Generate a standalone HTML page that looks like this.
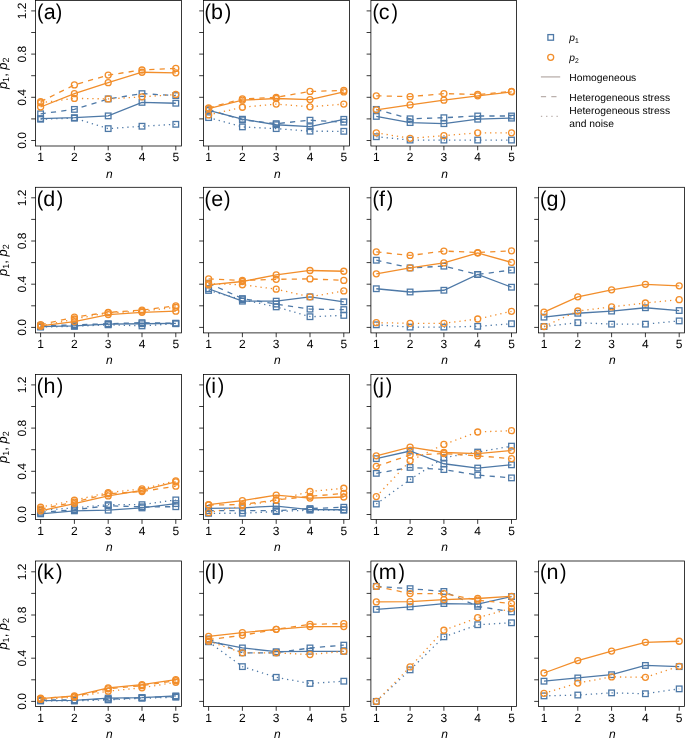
<!DOCTYPE html>
<html><head><meta charset="utf-8"><style>
html,body{margin:0;padding:0;background:#fff;}
svg{display:block;will-change:transform;}
text{font-family:"Liberation Sans",sans-serif;fill:#000;text-rendering:geometricPrecision;}
.tk{font-size:12px;text-anchor:middle;}
.ax{font-size:12px;text-anchor:middle;font-style:italic;}
.yl{font-size:13px;text-anchor:middle;}
.sub{font-size:9px;}
.pl{font-size:21.5px;}
.lg{font-size:10.3px;}
.lsub{font-size:6.8px;}
</style></head><body>
<svg width="685" height="738" viewBox="0 0 685 738">
<rect width="685" height="738" fill="#fff"/>
<rect x="35.5" y="0.5" width="146" height="145.5" fill="none" stroke="#000000" stroke-width="0.78"/>
<path d="M40.6 146v4.3M74.4 146v4.3M108.2 146v4.3M142 146v4.3M175.8 146v4.3M35.5 140.5h-4.3M35.5 118.9h-4.3M35.5 97.3h-4.3M35.5 75.7h-4.3M35.5 54.1h-4.3M35.5 32.5h-4.3M35.5 10.9h-4.3" stroke="#000000" stroke-width="0.78" fill="none"/>
<text x="40.6" y="161" class="tk">1</text>
<text x="74.4" y="161" class="tk">2</text>
<text x="108.2" y="161" class="tk">3</text>
<text x="142" y="161" class="tk">4</text>
<text x="175.8" y="161" class="tk">5</text>
<text x="109.3" y="177.6" class="ax">n</text>
<text transform="translate(26.1 140.5) rotate(-90)" class="tk">0.0</text>
<text transform="translate(26.1 97.3) rotate(-90)" class="tk">0.4</text>
<text transform="translate(26.1 54.1) rotate(-90)" class="tk">0.8</text>
<text transform="translate(26.1 10.9) rotate(-90)" class="tk">1.2</text>
<text transform="translate(6.5 73.25) rotate(-90)" class="yl"><tspan font-style="italic">p</tspan><tspan class="sub" dy="2.3">1</tspan><tspan dy="-2.3">, </tspan><tspan font-style="italic">p</tspan><tspan class="sub" dy="2.3">2</tspan></text>
<text transform="translate(36.9 18.8) scale(0.9 1)" class="pl">(</text>
<text x="43.8" y="18.8" class="pl">a</text>
<text transform="translate(55.78 18.8) scale(0.9 1)" class="pl">)</text>
<polyline points="40.6,118.58 74.4,117.71 108.2,115.88 142,102.38 175.8,103.24" fill="none" stroke="#4E79A7" stroke-width="1.3"/>
<rect x="37.8" y="115.78" width="5.6" height="5.6" fill="none" stroke="#4E79A7" stroke-width="1.3"/>
<rect x="71.6" y="114.91" width="5.6" height="5.6" fill="none" stroke="#4E79A7" stroke-width="1.3"/>
<rect x="105.4" y="113.08" width="5.6" height="5.6" fill="none" stroke="#4E79A7" stroke-width="1.3"/>
<rect x="139.2" y="99.58" width="5.6" height="5.6" fill="none" stroke="#4E79A7" stroke-width="1.3"/>
<rect x="173" y="100.44" width="5.6" height="5.6" fill="none" stroke="#4E79A7" stroke-width="1.3"/>
<polyline points="40.6,113.82 74.4,109.4 108.2,98.92 142,93.63 175.8,95.57" fill="none" stroke="#4E79A7" stroke-width="1.3" stroke-dasharray="5.2 5.2"/>
<rect x="37.8" y="111.02" width="5.6" height="5.6" fill="none" stroke="#4E79A7" stroke-width="1.3"/>
<rect x="71.6" y="106.6" width="5.6" height="5.6" fill="none" stroke="#4E79A7" stroke-width="1.3"/>
<rect x="105.4" y="96.12" width="5.6" height="5.6" fill="none" stroke="#4E79A7" stroke-width="1.3"/>
<rect x="139.2" y="90.83" width="5.6" height="5.6" fill="none" stroke="#4E79A7" stroke-width="1.3"/>
<rect x="173" y="92.77" width="5.6" height="5.6" fill="none" stroke="#4E79A7" stroke-width="1.3"/>
<polyline points="40.6,119.22 74.4,118.14 108.2,128.62 142,126.24 175.8,124.3" fill="none" stroke="#4E79A7" stroke-width="1.3" stroke-dasharray="1.3 3.9"/>
<rect x="37.8" y="116.42" width="5.6" height="5.6" fill="none" stroke="#4E79A7" stroke-width="1.3"/>
<rect x="71.6" y="115.34" width="5.6" height="5.6" fill="none" stroke="#4E79A7" stroke-width="1.3"/>
<rect x="105.4" y="125.82" width="5.6" height="5.6" fill="none" stroke="#4E79A7" stroke-width="1.3"/>
<rect x="139.2" y="123.44" width="5.6" height="5.6" fill="none" stroke="#4E79A7" stroke-width="1.3"/>
<rect x="173" y="121.5" width="5.6" height="5.6" fill="none" stroke="#4E79A7" stroke-width="1.3"/>
<polyline points="40.6,107.02 74.4,93.63 108.2,82.72 142,72.24 175.8,72.78" fill="none" stroke="#F28E2B" stroke-width="1.3"/>
<circle cx="40.6" cy="107.02" r="3" fill="none" stroke="#F28E2B" stroke-width="1.3"/>
<circle cx="74.4" cy="93.63" r="3" fill="none" stroke="#F28E2B" stroke-width="1.3"/>
<circle cx="108.2" cy="82.72" r="3" fill="none" stroke="#F28E2B" stroke-width="1.3"/>
<circle cx="142" cy="72.24" r="3" fill="none" stroke="#F28E2B" stroke-width="1.3"/>
<circle cx="175.8" cy="72.78" r="3" fill="none" stroke="#F28E2B" stroke-width="1.3"/>
<polyline points="40.6,101.73 74.4,84.88 108.2,75.05 142,69.98 175.8,68.46" fill="none" stroke="#F28E2B" stroke-width="1.3" stroke-dasharray="5.2 5.2"/>
<circle cx="40.6" cy="101.73" r="3" fill="none" stroke="#F28E2B" stroke-width="1.3"/>
<circle cx="74.4" cy="84.88" r="3" fill="none" stroke="#F28E2B" stroke-width="1.3"/>
<circle cx="108.2" cy="75.05" r="3" fill="none" stroke="#F28E2B" stroke-width="1.3"/>
<circle cx="142" cy="69.98" r="3" fill="none" stroke="#F28E2B" stroke-width="1.3"/>
<circle cx="175.8" cy="68.46" r="3" fill="none" stroke="#F28E2B" stroke-width="1.3"/>
<polyline points="40.6,102.81 74.4,98.38 108.2,98.92 142,96.87 175.8,94.49" fill="none" stroke="#F28E2B" stroke-width="1.3" stroke-dasharray="1.3 3.9"/>
<circle cx="40.6" cy="102.81" r="3" fill="none" stroke="#F28E2B" stroke-width="1.3"/>
<circle cx="74.4" cy="98.38" r="3" fill="none" stroke="#F28E2B" stroke-width="1.3"/>
<circle cx="108.2" cy="98.92" r="3" fill="none" stroke="#F28E2B" stroke-width="1.3"/>
<circle cx="142" cy="96.87" r="3" fill="none" stroke="#F28E2B" stroke-width="1.3"/>
<circle cx="175.8" cy="94.49" r="3" fill="none" stroke="#F28E2B" stroke-width="1.3"/>
<rect x="203.5" y="0.5" width="145.9" height="145.5" fill="none" stroke="#000000" stroke-width="0.78"/>
<path d="M208.6 146v4.3M242.4 146v4.3M276.2 146v4.3M310 146v4.3M343.8 146v4.3M203.5 140.5h-4.3M203.5 118.9h-4.3M203.5 97.3h-4.3M203.5 75.7h-4.3M203.5 54.1h-4.3M203.5 32.5h-4.3M203.5 10.9h-4.3" stroke="#000000" stroke-width="0.78" fill="none"/>
<text x="208.6" y="161" class="tk">1</text>
<text x="242.4" y="161" class="tk">2</text>
<text x="276.2" y="161" class="tk">3</text>
<text x="310" y="161" class="tk">4</text>
<text x="343.8" y="161" class="tk">5</text>
<text x="277.25" y="177.6" class="ax">n</text>
<text transform="translate(204.4 18.8) scale(0.9 1)" class="pl">(</text>
<text x="210.92" y="18.8" class="pl">b</text>
<text transform="translate(224.78 18.8) scale(0.9 1)" class="pl">)</text>
<polyline points="208.6,110.48 242.4,119.22 276.2,124.73 310,126.68 343.8,119.33" fill="none" stroke="#4E79A7" stroke-width="1.3"/>
<rect x="205.8" y="107.68" width="5.6" height="5.6" fill="none" stroke="#4E79A7" stroke-width="1.3"/>
<rect x="239.6" y="116.42" width="5.6" height="5.6" fill="none" stroke="#4E79A7" stroke-width="1.3"/>
<rect x="273.4" y="121.93" width="5.6" height="5.6" fill="none" stroke="#4E79A7" stroke-width="1.3"/>
<rect x="307.2" y="123.88" width="5.6" height="5.6" fill="none" stroke="#4E79A7" stroke-width="1.3"/>
<rect x="341" y="116.53" width="5.6" height="5.6" fill="none" stroke="#4E79A7" stroke-width="1.3"/>
<polyline points="208.6,109.72 242.4,119.87 276.2,123.65 310,120.2 343.8,122.14" fill="none" stroke="#4E79A7" stroke-width="1.3" stroke-dasharray="5.2 5.2"/>
<rect x="205.8" y="106.92" width="5.6" height="5.6" fill="none" stroke="#4E79A7" stroke-width="1.3"/>
<rect x="239.6" y="117.07" width="5.6" height="5.6" fill="none" stroke="#4E79A7" stroke-width="1.3"/>
<rect x="273.4" y="120.85" width="5.6" height="5.6" fill="none" stroke="#4E79A7" stroke-width="1.3"/>
<rect x="307.2" y="117.4" width="5.6" height="5.6" fill="none" stroke="#4E79A7" stroke-width="1.3"/>
<rect x="341" y="119.34" width="5.6" height="5.6" fill="none" stroke="#4E79A7" stroke-width="1.3"/>
<polyline points="208.6,117.6 242.4,126.89 276.2,128.62 310,131.21 343.8,131.32" fill="none" stroke="#4E79A7" stroke-width="1.3" stroke-dasharray="1.3 3.9"/>
<rect x="205.8" y="114.8" width="5.6" height="5.6" fill="none" stroke="#4E79A7" stroke-width="1.3"/>
<rect x="239.6" y="124.09" width="5.6" height="5.6" fill="none" stroke="#4E79A7" stroke-width="1.3"/>
<rect x="273.4" y="125.82" width="5.6" height="5.6" fill="none" stroke="#4E79A7" stroke-width="1.3"/>
<rect x="307.2" y="128.41" width="5.6" height="5.6" fill="none" stroke="#4E79A7" stroke-width="1.3"/>
<rect x="341" y="128.52" width="5.6" height="5.6" fill="none" stroke="#4E79A7" stroke-width="1.3"/>
<polyline points="208.6,108.53 242.4,100.22 276.2,98.49 310,99.57 343.8,91.9" fill="none" stroke="#F28E2B" stroke-width="1.3"/>
<circle cx="208.6" cy="108.53" r="3" fill="none" stroke="#F28E2B" stroke-width="1.3"/>
<circle cx="242.4" cy="100.22" r="3" fill="none" stroke="#F28E2B" stroke-width="1.3"/>
<circle cx="276.2" cy="98.49" r="3" fill="none" stroke="#F28E2B" stroke-width="1.3"/>
<circle cx="310" cy="99.57" r="3" fill="none" stroke="#F28E2B" stroke-width="1.3"/>
<circle cx="343.8" cy="91.9" r="3" fill="none" stroke="#F28E2B" stroke-width="1.3"/>
<polyline points="208.6,107.88 242.4,98.92 276.2,97.3 310,91.47 343.8,90.39" fill="none" stroke="#F28E2B" stroke-width="1.3" stroke-dasharray="5.2 5.2"/>
<circle cx="208.6" cy="107.88" r="3" fill="none" stroke="#F28E2B" stroke-width="1.3"/>
<circle cx="242.4" cy="98.92" r="3" fill="none" stroke="#F28E2B" stroke-width="1.3"/>
<circle cx="276.2" cy="97.3" r="3" fill="none" stroke="#F28E2B" stroke-width="1.3"/>
<circle cx="310" cy="91.47" r="3" fill="none" stroke="#F28E2B" stroke-width="1.3"/>
<circle cx="343.8" cy="90.39" r="3" fill="none" stroke="#F28E2B" stroke-width="1.3"/>
<polyline points="208.6,114.9 242.4,107.24 276.2,104.1 310,106.8 343.8,104.1" fill="none" stroke="#F28E2B" stroke-width="1.3" stroke-dasharray="1.3 3.9"/>
<circle cx="208.6" cy="114.9" r="3" fill="none" stroke="#F28E2B" stroke-width="1.3"/>
<circle cx="242.4" cy="107.24" r="3" fill="none" stroke="#F28E2B" stroke-width="1.3"/>
<circle cx="276.2" cy="104.1" r="3" fill="none" stroke="#F28E2B" stroke-width="1.3"/>
<circle cx="310" cy="106.8" r="3" fill="none" stroke="#F28E2B" stroke-width="1.3"/>
<circle cx="343.8" cy="104.1" r="3" fill="none" stroke="#F28E2B" stroke-width="1.3"/>
<rect x="370.9" y="0.5" width="145.7" height="145.5" fill="none" stroke="#000000" stroke-width="0.78"/>
<path d="M376.3 146v4.3M410.1 146v4.3M443.9 146v4.3M477.7 146v4.3M511.5 146v4.3M370.9 140.5h-4.3M370.9 118.9h-4.3M370.9 97.3h-4.3M370.9 75.7h-4.3M370.9 54.1h-4.3M370.9 32.5h-4.3M370.9 10.9h-4.3" stroke="#000000" stroke-width="0.78" fill="none"/>
<text x="376.3" y="161" class="tk">1</text>
<text x="410.1" y="161" class="tk">2</text>
<text x="443.9" y="161" class="tk">3</text>
<text x="477.7" y="161" class="tk">4</text>
<text x="511.5" y="161" class="tk">5</text>
<text x="444.55" y="177.6" class="ax">n</text>
<text transform="translate(372.4 18.8) scale(0.9 1)" class="pl">(</text>
<text x="378.7" y="18.8" class="pl">c</text>
<text transform="translate(391.48 18.8) scale(0.9 1)" class="pl">)</text>
<polyline points="376.3,116.42 410.1,122.57 443.9,123.65 477.7,119.22 511.5,118.14" fill="none" stroke="#4E79A7" stroke-width="1.3"/>
<rect x="373.5" y="113.62" width="5.6" height="5.6" fill="none" stroke="#4E79A7" stroke-width="1.3"/>
<rect x="407.3" y="119.77" width="5.6" height="5.6" fill="none" stroke="#4E79A7" stroke-width="1.3"/>
<rect x="441.1" y="120.85" width="5.6" height="5.6" fill="none" stroke="#4E79A7" stroke-width="1.3"/>
<rect x="474.9" y="116.42" width="5.6" height="5.6" fill="none" stroke="#4E79A7" stroke-width="1.3"/>
<rect x="508.7" y="115.34" width="5.6" height="5.6" fill="none" stroke="#4E79A7" stroke-width="1.3"/>
<polyline points="376.3,109.4 410.1,118.79 443.9,117.71 477.7,115.98 511.5,115.98" fill="none" stroke="#4E79A7" stroke-width="1.3" stroke-dasharray="5.2 5.2"/>
<rect x="373.5" y="106.6" width="5.6" height="5.6" fill="none" stroke="#4E79A7" stroke-width="1.3"/>
<rect x="407.3" y="115.99" width="5.6" height="5.6" fill="none" stroke="#4E79A7" stroke-width="1.3"/>
<rect x="441.1" y="114.91" width="5.6" height="5.6" fill="none" stroke="#4E79A7" stroke-width="1.3"/>
<rect x="474.9" y="113.18" width="5.6" height="5.6" fill="none" stroke="#4E79A7" stroke-width="1.3"/>
<rect x="508.7" y="113.18" width="5.6" height="5.6" fill="none" stroke="#4E79A7" stroke-width="1.3"/>
<polyline points="376.3,136.72 410.1,140.07 443.9,140.07 477.7,140.07 511.5,140.07" fill="none" stroke="#4E79A7" stroke-width="1.3" stroke-dasharray="1.3 3.9"/>
<rect x="373.5" y="133.92" width="5.6" height="5.6" fill="none" stroke="#4E79A7" stroke-width="1.3"/>
<rect x="407.3" y="137.27" width="5.6" height="5.6" fill="none" stroke="#4E79A7" stroke-width="1.3"/>
<rect x="441.1" y="137.27" width="5.6" height="5.6" fill="none" stroke="#4E79A7" stroke-width="1.3"/>
<rect x="474.9" y="137.27" width="5.6" height="5.6" fill="none" stroke="#4E79A7" stroke-width="1.3"/>
<rect x="508.7" y="137.27" width="5.6" height="5.6" fill="none" stroke="#4E79A7" stroke-width="1.3"/>
<polyline points="376.3,109.83 410.1,104.97 443.9,100.22 477.7,95.79 511.5,91.9" fill="none" stroke="#F28E2B" stroke-width="1.3"/>
<circle cx="376.3" cy="109.83" r="3" fill="none" stroke="#F28E2B" stroke-width="1.3"/>
<circle cx="410.1" cy="104.97" r="3" fill="none" stroke="#F28E2B" stroke-width="1.3"/>
<circle cx="443.9" cy="100.22" r="3" fill="none" stroke="#F28E2B" stroke-width="1.3"/>
<circle cx="477.7" cy="95.79" r="3" fill="none" stroke="#F28E2B" stroke-width="1.3"/>
<circle cx="511.5" cy="91.9" r="3" fill="none" stroke="#F28E2B" stroke-width="1.3"/>
<polyline points="376.3,95.79 410.1,96.65 443.9,93.63 477.7,94.49 511.5,91.47" fill="none" stroke="#F28E2B" stroke-width="1.3" stroke-dasharray="5.2 5.2"/>
<circle cx="376.3" cy="95.79" r="3" fill="none" stroke="#F28E2B" stroke-width="1.3"/>
<circle cx="410.1" cy="96.65" r="3" fill="none" stroke="#F28E2B" stroke-width="1.3"/>
<circle cx="443.9" cy="93.63" r="3" fill="none" stroke="#F28E2B" stroke-width="1.3"/>
<circle cx="477.7" cy="94.49" r="3" fill="none" stroke="#F28E2B" stroke-width="1.3"/>
<circle cx="511.5" cy="91.47" r="3" fill="none" stroke="#F28E2B" stroke-width="1.3"/>
<polyline points="376.3,132.83 410.1,138.34 443.9,135.64 477.7,132.83 511.5,132.83" fill="none" stroke="#F28E2B" stroke-width="1.3" stroke-dasharray="1.3 3.9"/>
<circle cx="376.3" cy="132.83" r="3" fill="none" stroke="#F28E2B" stroke-width="1.3"/>
<circle cx="410.1" cy="138.34" r="3" fill="none" stroke="#F28E2B" stroke-width="1.3"/>
<circle cx="443.9" cy="135.64" r="3" fill="none" stroke="#F28E2B" stroke-width="1.3"/>
<circle cx="477.7" cy="132.83" r="3" fill="none" stroke="#F28E2B" stroke-width="1.3"/>
<circle cx="511.5" cy="132.83" r="3" fill="none" stroke="#F28E2B" stroke-width="1.3"/>
<rect x="35.5" y="187.3" width="146" height="145.6" fill="none" stroke="#000000" stroke-width="0.78"/>
<path d="M40.6 332.9v4.3M74.4 332.9v4.3M108.2 332.9v4.3M142 332.9v4.3M175.8 332.9v4.3M35.5 327.4h-4.3M35.5 305.8h-4.3M35.5 284.2h-4.3M35.5 262.6h-4.3M35.5 241h-4.3M35.5 219.4h-4.3M35.5 197.8h-4.3" stroke="#000000" stroke-width="0.78" fill="none"/>
<text x="40.6" y="347.9" class="tk">1</text>
<text x="74.4" y="347.9" class="tk">2</text>
<text x="108.2" y="347.9" class="tk">3</text>
<text x="142" y="347.9" class="tk">4</text>
<text x="175.8" y="347.9" class="tk">5</text>
<text x="109.3" y="364" class="ax">n</text>
<text transform="translate(26.1 327.4) rotate(-90)" class="tk">0.0</text>
<text transform="translate(26.1 284.2) rotate(-90)" class="tk">0.4</text>
<text transform="translate(26.1 241) rotate(-90)" class="tk">0.8</text>
<text transform="translate(26.1 197.8) rotate(-90)" class="tk">1.2</text>
<text transform="translate(6.5 260.1) rotate(-90)" class="yl"><tspan font-style="italic">p</tspan><tspan class="sub" dy="2.3">1</tspan><tspan dy="-2.3">, </tspan><tspan font-style="italic">p</tspan><tspan class="sub" dy="2.3">2</tspan></text>
<text transform="translate(36.7 205.6) scale(0.9 1)" class="pl">(</text>
<text x="43.2" y="205.6" class="pl">d</text>
<text transform="translate(56.78 205.6) scale(0.9 1)" class="pl">)</text>
<polyline points="40.6,326.54 74.4,325.89 108.2,324.16 142,323.73 175.8,323.3" fill="none" stroke="#4E79A7" stroke-width="1.3"/>
<rect x="37.8" y="323.74" width="5.6" height="5.6" fill="none" stroke="#4E79A7" stroke-width="1.3"/>
<rect x="71.6" y="323.09" width="5.6" height="5.6" fill="none" stroke="#4E79A7" stroke-width="1.3"/>
<rect x="105.4" y="321.36" width="5.6" height="5.6" fill="none" stroke="#4E79A7" stroke-width="1.3"/>
<rect x="139.2" y="320.93" width="5.6" height="5.6" fill="none" stroke="#4E79A7" stroke-width="1.3"/>
<rect x="173" y="320.5" width="5.6" height="5.6" fill="none" stroke="#4E79A7" stroke-width="1.3"/>
<polyline points="40.6,325.89 74.4,324.81 108.2,323.73 142,322.65 175.8,323.3" fill="none" stroke="#4E79A7" stroke-width="1.3" stroke-dasharray="5.2 5.2"/>
<rect x="37.8" y="323.09" width="5.6" height="5.6" fill="none" stroke="#4E79A7" stroke-width="1.3"/>
<rect x="71.6" y="322.01" width="5.6" height="5.6" fill="none" stroke="#4E79A7" stroke-width="1.3"/>
<rect x="105.4" y="320.93" width="5.6" height="5.6" fill="none" stroke="#4E79A7" stroke-width="1.3"/>
<rect x="139.2" y="319.85" width="5.6" height="5.6" fill="none" stroke="#4E79A7" stroke-width="1.3"/>
<rect x="173" y="320.5" width="5.6" height="5.6" fill="none" stroke="#4E79A7" stroke-width="1.3"/>
<polyline points="40.6,327.08 74.4,326.32 108.2,324.81 142,325.89 175.8,323.73" fill="none" stroke="#4E79A7" stroke-width="1.3" stroke-dasharray="1.3 3.9"/>
<rect x="37.8" y="324.28" width="5.6" height="5.6" fill="none" stroke="#4E79A7" stroke-width="1.3"/>
<rect x="71.6" y="323.52" width="5.6" height="5.6" fill="none" stroke="#4E79A7" stroke-width="1.3"/>
<rect x="105.4" y="322.01" width="5.6" height="5.6" fill="none" stroke="#4E79A7" stroke-width="1.3"/>
<rect x="139.2" y="323.09" width="5.6" height="5.6" fill="none" stroke="#4E79A7" stroke-width="1.3"/>
<rect x="173" y="320.93" width="5.6" height="5.6" fill="none" stroke="#4E79A7" stroke-width="1.3"/>
<polyline points="40.6,325.78 74.4,321.57 108.2,314.55 142,312.28 175.8,311.2" fill="none" stroke="#F28E2B" stroke-width="1.3"/>
<circle cx="40.6" cy="325.78" r="3" fill="none" stroke="#F28E2B" stroke-width="1.3"/>
<circle cx="74.4" cy="321.57" r="3" fill="none" stroke="#F28E2B" stroke-width="1.3"/>
<circle cx="108.2" cy="314.55" r="3" fill="none" stroke="#F28E2B" stroke-width="1.3"/>
<circle cx="142" cy="312.28" r="3" fill="none" stroke="#F28E2B" stroke-width="1.3"/>
<circle cx="175.8" cy="311.2" r="3" fill="none" stroke="#F28E2B" stroke-width="1.3"/>
<polyline points="40.6,324.7 74.4,317.14 108.2,312.39 142,310.12 175.8,305.8" fill="none" stroke="#F28E2B" stroke-width="1.3" stroke-dasharray="5.2 5.2"/>
<circle cx="40.6" cy="324.7" r="3" fill="none" stroke="#F28E2B" stroke-width="1.3"/>
<circle cx="74.4" cy="317.14" r="3" fill="none" stroke="#F28E2B" stroke-width="1.3"/>
<circle cx="108.2" cy="312.39" r="3" fill="none" stroke="#F28E2B" stroke-width="1.3"/>
<circle cx="142" cy="310.12" r="3" fill="none" stroke="#F28E2B" stroke-width="1.3"/>
<circle cx="175.8" cy="305.8" r="3" fill="none" stroke="#F28E2B" stroke-width="1.3"/>
<polyline points="40.6,326.32 74.4,318.98 108.2,312.82 142,311.2 175.8,307.31" fill="none" stroke="#F28E2B" stroke-width="1.3" stroke-dasharray="1.3 3.9"/>
<circle cx="40.6" cy="326.32" r="3" fill="none" stroke="#F28E2B" stroke-width="1.3"/>
<circle cx="74.4" cy="318.98" r="3" fill="none" stroke="#F28E2B" stroke-width="1.3"/>
<circle cx="108.2" cy="312.82" r="3" fill="none" stroke="#F28E2B" stroke-width="1.3"/>
<circle cx="142" cy="311.2" r="3" fill="none" stroke="#F28E2B" stroke-width="1.3"/>
<circle cx="175.8" cy="307.31" r="3" fill="none" stroke="#F28E2B" stroke-width="1.3"/>
<rect x="203.5" y="187.3" width="145.9" height="145.6" fill="none" stroke="#000000" stroke-width="0.78"/>
<path d="M208.6 332.9v4.3M242.4 332.9v4.3M276.2 332.9v4.3M310 332.9v4.3M343.8 332.9v4.3M203.5 327.4h-4.3M203.5 305.8h-4.3M203.5 284.2h-4.3M203.5 262.6h-4.3M203.5 241h-4.3M203.5 219.4h-4.3M203.5 197.8h-4.3" stroke="#000000" stroke-width="0.78" fill="none"/>
<text x="208.6" y="347.9" class="tk">1</text>
<text x="242.4" y="347.9" class="tk">2</text>
<text x="276.2" y="347.9" class="tk">3</text>
<text x="310" y="347.9" class="tk">4</text>
<text x="343.8" y="347.9" class="tk">5</text>
<text x="277.25" y="364" class="ax">n</text>
<text transform="translate(204.4 205.6) scale(0.9 1)" class="pl">(</text>
<text x="211.2" y="205.6" class="pl">e</text>
<text transform="translate(223.88 205.6) scale(0.9 1)" class="pl">)</text>
<polyline points="208.6,288.74 242.4,301.16 276.2,301.16 310,296.84 343.8,301.8" fill="none" stroke="#4E79A7" stroke-width="1.3"/>
<rect x="205.8" y="285.94" width="5.6" height="5.6" fill="none" stroke="#4E79A7" stroke-width="1.3"/>
<rect x="239.6" y="298.36" width="5.6" height="5.6" fill="none" stroke="#4E79A7" stroke-width="1.3"/>
<rect x="273.4" y="298.36" width="5.6" height="5.6" fill="none" stroke="#4E79A7" stroke-width="1.3"/>
<rect x="307.2" y="294.04" width="5.6" height="5.6" fill="none" stroke="#4E79A7" stroke-width="1.3"/>
<rect x="341" y="299" width="5.6" height="5.6" fill="none" stroke="#4E79A7" stroke-width="1.3"/>
<polyline points="208.6,283.23 242.4,298.56 276.2,304.07 310,309.15 343.8,309.58" fill="none" stroke="#4E79A7" stroke-width="1.3" stroke-dasharray="5.2 5.2"/>
<rect x="205.8" y="280.43" width="5.6" height="5.6" fill="none" stroke="#4E79A7" stroke-width="1.3"/>
<rect x="239.6" y="295.76" width="5.6" height="5.6" fill="none" stroke="#4E79A7" stroke-width="1.3"/>
<rect x="273.4" y="301.27" width="5.6" height="5.6" fill="none" stroke="#4E79A7" stroke-width="1.3"/>
<rect x="307.2" y="306.35" width="5.6" height="5.6" fill="none" stroke="#4E79A7" stroke-width="1.3"/>
<rect x="341" y="306.78" width="5.6" height="5.6" fill="none" stroke="#4E79A7" stroke-width="1.3"/>
<polyline points="208.6,290.46 242.4,299.64 276.2,306.88 310,316.71 343.8,315.41" fill="none" stroke="#4E79A7" stroke-width="1.3" stroke-dasharray="1.3 3.9"/>
<rect x="205.8" y="287.66" width="5.6" height="5.6" fill="none" stroke="#4E79A7" stroke-width="1.3"/>
<rect x="239.6" y="296.84" width="5.6" height="5.6" fill="none" stroke="#4E79A7" stroke-width="1.3"/>
<rect x="273.4" y="304.08" width="5.6" height="5.6" fill="none" stroke="#4E79A7" stroke-width="1.3"/>
<rect x="307.2" y="313.91" width="5.6" height="5.6" fill="none" stroke="#4E79A7" stroke-width="1.3"/>
<rect x="341" y="312.61" width="5.6" height="5.6" fill="none" stroke="#4E79A7" stroke-width="1.3"/>
<polyline points="208.6,284.96 242.4,281.5 276.2,274.91 310,270.48 343.8,271.24" fill="none" stroke="#F28E2B" stroke-width="1.3"/>
<circle cx="208.6" cy="284.96" r="3" fill="none" stroke="#F28E2B" stroke-width="1.3"/>
<circle cx="242.4" cy="281.5" r="3" fill="none" stroke="#F28E2B" stroke-width="1.3"/>
<circle cx="276.2" cy="274.91" r="3" fill="none" stroke="#F28E2B" stroke-width="1.3"/>
<circle cx="310" cy="270.48" r="3" fill="none" stroke="#F28E2B" stroke-width="1.3"/>
<circle cx="343.8" cy="271.24" r="3" fill="none" stroke="#F28E2B" stroke-width="1.3"/>
<polyline points="208.6,278.91 242.4,280.42 276.2,279.34 310,278.91 343.8,280.42" fill="none" stroke="#F28E2B" stroke-width="1.3" stroke-dasharray="5.2 5.2"/>
<circle cx="208.6" cy="278.91" r="3" fill="none" stroke="#F28E2B" stroke-width="1.3"/>
<circle cx="242.4" cy="280.42" r="3" fill="none" stroke="#F28E2B" stroke-width="1.3"/>
<circle cx="276.2" cy="279.34" r="3" fill="none" stroke="#F28E2B" stroke-width="1.3"/>
<circle cx="310" cy="278.91" r="3" fill="none" stroke="#F28E2B" stroke-width="1.3"/>
<circle cx="343.8" cy="280.42" r="3" fill="none" stroke="#F28E2B" stroke-width="1.3"/>
<polyline points="208.6,283.66 242.4,284.74 276.2,289.17 310,296.84 343.8,290.9" fill="none" stroke="#F28E2B" stroke-width="1.3" stroke-dasharray="1.3 3.9"/>
<circle cx="208.6" cy="283.66" r="3" fill="none" stroke="#F28E2B" stroke-width="1.3"/>
<circle cx="242.4" cy="284.74" r="3" fill="none" stroke="#F28E2B" stroke-width="1.3"/>
<circle cx="276.2" cy="289.17" r="3" fill="none" stroke="#F28E2B" stroke-width="1.3"/>
<circle cx="310" cy="296.84" r="3" fill="none" stroke="#F28E2B" stroke-width="1.3"/>
<circle cx="343.8" cy="290.9" r="3" fill="none" stroke="#F28E2B" stroke-width="1.3"/>
<rect x="370.9" y="187.3" width="145.7" height="145.6" fill="none" stroke="#000000" stroke-width="0.78"/>
<path d="M376.3 332.9v4.3M410.1 332.9v4.3M443.9 332.9v4.3M477.7 332.9v4.3M511.5 332.9v4.3M370.9 327.4h-4.3M370.9 305.8h-4.3M370.9 284.2h-4.3M370.9 262.6h-4.3M370.9 241h-4.3M370.9 219.4h-4.3M370.9 197.8h-4.3" stroke="#000000" stroke-width="0.78" fill="none"/>
<text x="376.3" y="347.9" class="tk">1</text>
<text x="410.1" y="347.9" class="tk">2</text>
<text x="443.9" y="347.9" class="tk">3</text>
<text x="477.7" y="347.9" class="tk">4</text>
<text x="511.5" y="347.9" class="tk">5</text>
<text x="444.55" y="364" class="ax">n</text>
<text transform="translate(372.4 205.6) scale(0.9 1)" class="pl">(</text>
<text x="379" y="205.6" class="pl">f</text>
<text transform="translate(386.78 205.6) scale(0.9 1)" class="pl">)</text>
<polyline points="376.3,288.74 410.1,291.98 443.9,290.25 477.7,274.48 511.5,287.22" fill="none" stroke="#4E79A7" stroke-width="1.3"/>
<rect x="373.5" y="285.94" width="5.6" height="5.6" fill="none" stroke="#4E79A7" stroke-width="1.3"/>
<rect x="407.3" y="289.18" width="5.6" height="5.6" fill="none" stroke="#4E79A7" stroke-width="1.3"/>
<rect x="441.1" y="287.45" width="5.6" height="5.6" fill="none" stroke="#4E79A7" stroke-width="1.3"/>
<rect x="474.9" y="271.68" width="5.6" height="5.6" fill="none" stroke="#4E79A7" stroke-width="1.3"/>
<rect x="508.7" y="284.42" width="5.6" height="5.6" fill="none" stroke="#4E79A7" stroke-width="1.3"/>
<polyline points="376.3,260.22 410.1,267.89 443.9,266.16 477.7,274.48 511.5,270.05" fill="none" stroke="#4E79A7" stroke-width="1.3" stroke-dasharray="5.2 5.2"/>
<rect x="373.5" y="257.42" width="5.6" height="5.6" fill="none" stroke="#4E79A7" stroke-width="1.3"/>
<rect x="407.3" y="265.09" width="5.6" height="5.6" fill="none" stroke="#4E79A7" stroke-width="1.3"/>
<rect x="441.1" y="263.36" width="5.6" height="5.6" fill="none" stroke="#4E79A7" stroke-width="1.3"/>
<rect x="474.9" y="271.68" width="5.6" height="5.6" fill="none" stroke="#4E79A7" stroke-width="1.3"/>
<rect x="508.7" y="267.25" width="5.6" height="5.6" fill="none" stroke="#4E79A7" stroke-width="1.3"/>
<polyline points="376.3,324.81 410.1,327.08 443.9,327.08 477.7,326.32 511.5,323.73" fill="none" stroke="#4E79A7" stroke-width="1.3" stroke-dasharray="1.3 3.9"/>
<rect x="373.5" y="322.01" width="5.6" height="5.6" fill="none" stroke="#4E79A7" stroke-width="1.3"/>
<rect x="407.3" y="324.28" width="5.6" height="5.6" fill="none" stroke="#4E79A7" stroke-width="1.3"/>
<rect x="441.1" y="324.28" width="5.6" height="5.6" fill="none" stroke="#4E79A7" stroke-width="1.3"/>
<rect x="474.9" y="323.52" width="5.6" height="5.6" fill="none" stroke="#4E79A7" stroke-width="1.3"/>
<rect x="508.7" y="320.93" width="5.6" height="5.6" fill="none" stroke="#4E79A7" stroke-width="1.3"/>
<polyline points="376.3,273.83 410.1,267.89 443.9,262.92 477.7,252.99 511.5,262.38" fill="none" stroke="#F28E2B" stroke-width="1.3"/>
<circle cx="376.3" cy="273.83" r="3" fill="none" stroke="#F28E2B" stroke-width="1.3"/>
<circle cx="410.1" cy="267.89" r="3" fill="none" stroke="#F28E2B" stroke-width="1.3"/>
<circle cx="443.9" cy="262.92" r="3" fill="none" stroke="#F28E2B" stroke-width="1.3"/>
<circle cx="477.7" cy="252.99" r="3" fill="none" stroke="#F28E2B" stroke-width="1.3"/>
<circle cx="511.5" cy="262.38" r="3" fill="none" stroke="#F28E2B" stroke-width="1.3"/>
<polyline points="376.3,251.91 410.1,255.47 443.9,251.04 477.7,252.56 511.5,250.83" fill="none" stroke="#F28E2B" stroke-width="1.3" stroke-dasharray="5.2 5.2"/>
<circle cx="376.3" cy="251.91" r="3" fill="none" stroke="#F28E2B" stroke-width="1.3"/>
<circle cx="410.1" cy="255.47" r="3" fill="none" stroke="#F28E2B" stroke-width="1.3"/>
<circle cx="443.9" cy="251.04" r="3" fill="none" stroke="#F28E2B" stroke-width="1.3"/>
<circle cx="477.7" cy="252.56" r="3" fill="none" stroke="#F28E2B" stroke-width="1.3"/>
<circle cx="511.5" cy="250.83" r="3" fill="none" stroke="#F28E2B" stroke-width="1.3"/>
<polyline points="376.3,322.65 410.1,323.3 443.9,323.3 477.7,318.98 511.5,311.31" fill="none" stroke="#F28E2B" stroke-width="1.3" stroke-dasharray="1.3 3.9"/>
<circle cx="376.3" cy="322.65" r="3" fill="none" stroke="#F28E2B" stroke-width="1.3"/>
<circle cx="410.1" cy="323.3" r="3" fill="none" stroke="#F28E2B" stroke-width="1.3"/>
<circle cx="443.9" cy="323.3" r="3" fill="none" stroke="#F28E2B" stroke-width="1.3"/>
<circle cx="477.7" cy="318.98" r="3" fill="none" stroke="#F28E2B" stroke-width="1.3"/>
<circle cx="511.5" cy="311.31" r="3" fill="none" stroke="#F28E2B" stroke-width="1.3"/>
<rect x="538.5" y="187.3" width="146" height="145.6" fill="none" stroke="#000000" stroke-width="0.78"/>
<path d="M544 332.9v4.3M577.8 332.9v4.3M611.6 332.9v4.3M645.4 332.9v4.3M679.2 332.9v4.3M538.5 327.4h-4.3M538.5 305.8h-4.3M538.5 284.2h-4.3M538.5 262.6h-4.3M538.5 241h-4.3M538.5 219.4h-4.3M538.5 197.8h-4.3" stroke="#000000" stroke-width="0.78" fill="none"/>
<text x="544" y="347.9" class="tk">1</text>
<text x="577.8" y="347.9" class="tk">2</text>
<text x="611.6" y="347.9" class="tk">3</text>
<text x="645.4" y="347.9" class="tk">4</text>
<text x="679.2" y="347.9" class="tk">5</text>
<text x="612.3" y="364" class="ax">n</text>
<text transform="translate(540 205.6) scale(0.9 1)" class="pl">(</text>
<text x="546.4" y="205.6" class="pl">g</text>
<text transform="translate(560.08 205.6) scale(0.9 1)" class="pl">)</text>
<polyline points="544,317.14 577.8,313.25 611.6,311.09 645.4,307.74 679.2,310.55" fill="none" stroke="#4E79A7" stroke-width="1.3"/>
<rect x="541.2" y="314.34" width="5.6" height="5.6" fill="none" stroke="#4E79A7" stroke-width="1.3"/>
<rect x="575" y="310.45" width="5.6" height="5.6" fill="none" stroke="#4E79A7" stroke-width="1.3"/>
<rect x="608.8" y="308.29" width="5.6" height="5.6" fill="none" stroke="#4E79A7" stroke-width="1.3"/>
<rect x="642.6" y="304.94" width="5.6" height="5.6" fill="none" stroke="#4E79A7" stroke-width="1.3"/>
<rect x="676.4" y="307.75" width="5.6" height="5.6" fill="none" stroke="#4E79A7" stroke-width="1.3"/>
<polyline points="544,326.54 577.8,322.65 611.6,324.16 645.4,324.16 679.2,320.92" fill="none" stroke="#4E79A7" stroke-width="1.3" stroke-dasharray="1.3 3.9"/>
<rect x="541.2" y="323.74" width="5.6" height="5.6" fill="none" stroke="#4E79A7" stroke-width="1.3"/>
<rect x="575" y="319.85" width="5.6" height="5.6" fill="none" stroke="#4E79A7" stroke-width="1.3"/>
<rect x="608.8" y="321.36" width="5.6" height="5.6" fill="none" stroke="#4E79A7" stroke-width="1.3"/>
<rect x="642.6" y="321.36" width="5.6" height="5.6" fill="none" stroke="#4E79A7" stroke-width="1.3"/>
<rect x="676.4" y="318.12" width="5.6" height="5.6" fill="none" stroke="#4E79A7" stroke-width="1.3"/>
<polyline points="544,312.17 577.8,296.84 611.6,289.82 645.4,284.31 679.2,285.82" fill="none" stroke="#F28E2B" stroke-width="1.3"/>
<circle cx="544" cy="312.17" r="3" fill="none" stroke="#F28E2B" stroke-width="1.3"/>
<circle cx="577.8" cy="296.84" r="3" fill="none" stroke="#F28E2B" stroke-width="1.3"/>
<circle cx="611.6" cy="289.82" r="3" fill="none" stroke="#F28E2B" stroke-width="1.3"/>
<circle cx="645.4" cy="284.31" r="3" fill="none" stroke="#F28E2B" stroke-width="1.3"/>
<circle cx="679.2" cy="285.82" r="3" fill="none" stroke="#F28E2B" stroke-width="1.3"/>
<polyline points="544,326.54 577.8,310.98 611.6,306.88 645.4,302.99 679.2,299.64" fill="none" stroke="#F28E2B" stroke-width="1.3" stroke-dasharray="1.3 3.9"/>
<circle cx="544" cy="326.54" r="3" fill="none" stroke="#F28E2B" stroke-width="1.3"/>
<circle cx="577.8" cy="310.98" r="3" fill="none" stroke="#F28E2B" stroke-width="1.3"/>
<circle cx="611.6" cy="306.88" r="3" fill="none" stroke="#F28E2B" stroke-width="1.3"/>
<circle cx="645.4" cy="302.99" r="3" fill="none" stroke="#F28E2B" stroke-width="1.3"/>
<circle cx="679.2" cy="299.64" r="3" fill="none" stroke="#F28E2B" stroke-width="1.3"/>
<rect x="35.5" y="374.5" width="146" height="145.1" fill="none" stroke="#000000" stroke-width="0.78"/>
<path d="M40.6 519.6v4.3M74.4 519.6v4.3M108.2 519.6v4.3M142 519.6v4.3M175.8 519.6v4.3M35.5 514.5h-4.3M35.5 492.9h-4.3M35.5 471.3h-4.3M35.5 449.7h-4.3M35.5 428.1h-4.3M35.5 406.5h-4.3M35.5 384.9h-4.3" stroke="#000000" stroke-width="0.78" fill="none"/>
<text x="40.6" y="534.6" class="tk">1</text>
<text x="74.4" y="534.6" class="tk">2</text>
<text x="108.2" y="534.6" class="tk">3</text>
<text x="142" y="534.6" class="tk">4</text>
<text x="175.8" y="534.6" class="tk">5</text>
<text x="109.3" y="551.1" class="ax">n</text>
<text transform="translate(26.1 514.5) rotate(-90)" class="tk">0.0</text>
<text transform="translate(26.1 471.3) rotate(-90)" class="tk">0.4</text>
<text transform="translate(26.1 428.1) rotate(-90)" class="tk">0.8</text>
<text transform="translate(26.1 384.9) rotate(-90)" class="tk">1.2</text>
<text transform="translate(6.5 447.05) rotate(-90)" class="yl"><tspan font-style="italic">p</tspan><tspan class="sub" dy="2.3">1</tspan><tspan dy="-2.3">, </tspan><tspan font-style="italic">p</tspan><tspan class="sub" dy="2.3">2</tspan></text>
<text transform="translate(36.7 392.8) scale(0.9 1)" class="pl">(</text>
<text x="43.42" y="392.8" class="pl">h</text>
<text transform="translate(56.78 392.8) scale(0.9 1)" class="pl">)</text>
<polyline points="40.6,513.85 74.4,510.83 108.2,510.18 142,507.91 175.8,503.59" fill="none" stroke="#4E79A7" stroke-width="1.3"/>
<rect x="37.8" y="511.05" width="5.6" height="5.6" fill="none" stroke="#4E79A7" stroke-width="1.3"/>
<rect x="71.6" y="508.03" width="5.6" height="5.6" fill="none" stroke="#4E79A7" stroke-width="1.3"/>
<rect x="105.4" y="507.38" width="5.6" height="5.6" fill="none" stroke="#4E79A7" stroke-width="1.3"/>
<rect x="139.2" y="505.11" width="5.6" height="5.6" fill="none" stroke="#4E79A7" stroke-width="1.3"/>
<rect x="173" y="500.79" width="5.6" height="5.6" fill="none" stroke="#4E79A7" stroke-width="1.3"/>
<polyline points="40.6,512.34 74.4,509.75 108.2,505.75 142,506.83 175.8,506.72" fill="none" stroke="#4E79A7" stroke-width="1.3" stroke-dasharray="5.2 5.2"/>
<rect x="37.8" y="509.54" width="5.6" height="5.6" fill="none" stroke="#4E79A7" stroke-width="1.3"/>
<rect x="71.6" y="506.95" width="5.6" height="5.6" fill="none" stroke="#4E79A7" stroke-width="1.3"/>
<rect x="105.4" y="502.95" width="5.6" height="5.6" fill="none" stroke="#4E79A7" stroke-width="1.3"/>
<rect x="139.2" y="504.03" width="5.6" height="5.6" fill="none" stroke="#4E79A7" stroke-width="1.3"/>
<rect x="173" y="503.92" width="5.6" height="5.6" fill="none" stroke="#4E79A7" stroke-width="1.3"/>
<polyline points="40.6,510.18 74.4,507.91 108.2,504.67 142,504.67 175.8,499.92" fill="none" stroke="#4E79A7" stroke-width="1.3" stroke-dasharray="1.3 3.9"/>
<rect x="37.8" y="507.38" width="5.6" height="5.6" fill="none" stroke="#4E79A7" stroke-width="1.3"/>
<rect x="71.6" y="505.11" width="5.6" height="5.6" fill="none" stroke="#4E79A7" stroke-width="1.3"/>
<rect x="105.4" y="501.87" width="5.6" height="5.6" fill="none" stroke="#4E79A7" stroke-width="1.3"/>
<rect x="139.2" y="501.87" width="5.6" height="5.6" fill="none" stroke="#4E79A7" stroke-width="1.3"/>
<rect x="173" y="497.12" width="5.6" height="5.6" fill="none" stroke="#4E79A7" stroke-width="1.3"/>
<polyline points="40.6,510.83 74.4,503.59 108.2,495.92 142,490.42 175.8,481.88" fill="none" stroke="#F28E2B" stroke-width="1.3"/>
<circle cx="40.6" cy="510.83" r="3" fill="none" stroke="#F28E2B" stroke-width="1.3"/>
<circle cx="74.4" cy="503.59" r="3" fill="none" stroke="#F28E2B" stroke-width="1.3"/>
<circle cx="108.2" cy="495.92" r="3" fill="none" stroke="#F28E2B" stroke-width="1.3"/>
<circle cx="142" cy="490.42" r="3" fill="none" stroke="#F28E2B" stroke-width="1.3"/>
<circle cx="175.8" cy="481.88" r="3" fill="none" stroke="#F28E2B" stroke-width="1.3"/>
<polyline points="40.6,509.1 74.4,502.08 108.2,493.76 142,491.5 175.8,486.2" fill="none" stroke="#F28E2B" stroke-width="1.3" stroke-dasharray="5.2 5.2"/>
<circle cx="40.6" cy="509.1" r="3" fill="none" stroke="#F28E2B" stroke-width="1.3"/>
<circle cx="74.4" cy="502.08" r="3" fill="none" stroke="#F28E2B" stroke-width="1.3"/>
<circle cx="108.2" cy="493.76" r="3" fill="none" stroke="#F28E2B" stroke-width="1.3"/>
<circle cx="142" cy="491.5" r="3" fill="none" stroke="#F28E2B" stroke-width="1.3"/>
<circle cx="175.8" cy="486.2" r="3" fill="none" stroke="#F28E2B" stroke-width="1.3"/>
<polyline points="40.6,507.26 74.4,500.24 108.2,492.58 142,488.9 175.8,480.8" fill="none" stroke="#F28E2B" stroke-width="1.3" stroke-dasharray="1.3 3.9"/>
<circle cx="40.6" cy="507.26" r="3" fill="none" stroke="#F28E2B" stroke-width="1.3"/>
<circle cx="74.4" cy="500.24" r="3" fill="none" stroke="#F28E2B" stroke-width="1.3"/>
<circle cx="108.2" cy="492.58" r="3" fill="none" stroke="#F28E2B" stroke-width="1.3"/>
<circle cx="142" cy="488.9" r="3" fill="none" stroke="#F28E2B" stroke-width="1.3"/>
<circle cx="175.8" cy="480.8" r="3" fill="none" stroke="#F28E2B" stroke-width="1.3"/>
<rect x="203.5" y="374.5" width="145.9" height="145.1" fill="none" stroke="#000000" stroke-width="0.78"/>
<path d="M208.6 519.6v4.3M242.4 519.6v4.3M276.2 519.6v4.3M310 519.6v4.3M343.8 519.6v4.3M203.5 514.5h-4.3M203.5 492.9h-4.3M203.5 471.3h-4.3M203.5 449.7h-4.3M203.5 428.1h-4.3M203.5 406.5h-4.3M203.5 384.9h-4.3" stroke="#000000" stroke-width="0.78" fill="none"/>
<text x="208.6" y="534.6" class="tk">1</text>
<text x="242.4" y="534.6" class="tk">2</text>
<text x="276.2" y="534.6" class="tk">3</text>
<text x="310" y="534.6" class="tk">4</text>
<text x="343.8" y="534.6" class="tk">5</text>
<text x="277.25" y="551.1" class="ax">n</text>
<text transform="translate(204.7 392.8) scale(0.9 1)" class="pl">(</text>
<text x="211.16" y="392.8" class="pl">i</text>
<text transform="translate(217.78 392.8) scale(0.9 1)" class="pl">)</text>
<polyline points="208.6,508.45 242.4,507.8 276.2,506.08 310,509.53 343.8,509.75" fill="none" stroke="#4E79A7" stroke-width="1.3"/>
<rect x="205.8" y="505.65" width="5.6" height="5.6" fill="none" stroke="#4E79A7" stroke-width="1.3"/>
<rect x="239.6" y="505" width="5.6" height="5.6" fill="none" stroke="#4E79A7" stroke-width="1.3"/>
<rect x="273.4" y="503.28" width="5.6" height="5.6" fill="none" stroke="#4E79A7" stroke-width="1.3"/>
<rect x="307.2" y="506.73" width="5.6" height="5.6" fill="none" stroke="#4E79A7" stroke-width="1.3"/>
<rect x="341" y="506.95" width="5.6" height="5.6" fill="none" stroke="#4E79A7" stroke-width="1.3"/>
<polyline points="208.6,510.72 242.4,510.72 276.2,510.72 310,508.56 343.8,507.26" fill="none" stroke="#4E79A7" stroke-width="1.3" stroke-dasharray="5.2 5.2"/>
<rect x="205.8" y="507.92" width="5.6" height="5.6" fill="none" stroke="#4E79A7" stroke-width="1.3"/>
<rect x="239.6" y="507.92" width="5.6" height="5.6" fill="none" stroke="#4E79A7" stroke-width="1.3"/>
<rect x="273.4" y="507.92" width="5.6" height="5.6" fill="none" stroke="#4E79A7" stroke-width="1.3"/>
<rect x="307.2" y="505.76" width="5.6" height="5.6" fill="none" stroke="#4E79A7" stroke-width="1.3"/>
<rect x="341" y="504.46" width="5.6" height="5.6" fill="none" stroke="#4E79A7" stroke-width="1.3"/>
<polyline points="208.6,513.31 242.4,513.2 276.2,511.58 310,510.18 343.8,510.18" fill="none" stroke="#4E79A7" stroke-width="1.3" stroke-dasharray="1.3 3.9"/>
<rect x="205.8" y="510.51" width="5.6" height="5.6" fill="none" stroke="#4E79A7" stroke-width="1.3"/>
<rect x="239.6" y="510.4" width="5.6" height="5.6" fill="none" stroke="#4E79A7" stroke-width="1.3"/>
<rect x="273.4" y="508.78" width="5.6" height="5.6" fill="none" stroke="#4E79A7" stroke-width="1.3"/>
<rect x="307.2" y="507.38" width="5.6" height="5.6" fill="none" stroke="#4E79A7" stroke-width="1.3"/>
<rect x="341" y="507.38" width="5.6" height="5.6" fill="none" stroke="#4E79A7" stroke-width="1.3"/>
<polyline points="208.6,504.67 242.4,500.68 276.2,495.06 310,498.08 343.8,497" fill="none" stroke="#F28E2B" stroke-width="1.3"/>
<circle cx="208.6" cy="504.67" r="3" fill="none" stroke="#F28E2B" stroke-width="1.3"/>
<circle cx="242.4" cy="500.68" r="3" fill="none" stroke="#F28E2B" stroke-width="1.3"/>
<circle cx="276.2" cy="495.06" r="3" fill="none" stroke="#F28E2B" stroke-width="1.3"/>
<circle cx="310" cy="498.08" r="3" fill="none" stroke="#F28E2B" stroke-width="1.3"/>
<circle cx="343.8" cy="497" r="3" fill="none" stroke="#F28E2B" stroke-width="1.3"/>
<polyline points="208.6,505 242.4,504.56 276.2,499.81 310,496.36 343.8,493.33" fill="none" stroke="#F28E2B" stroke-width="1.3" stroke-dasharray="5.2 5.2"/>
<circle cx="208.6" cy="505" r="3" fill="none" stroke="#F28E2B" stroke-width="1.3"/>
<circle cx="242.4" cy="504.56" r="3" fill="none" stroke="#F28E2B" stroke-width="1.3"/>
<circle cx="276.2" cy="499.81" r="3" fill="none" stroke="#F28E2B" stroke-width="1.3"/>
<circle cx="310" cy="496.36" r="3" fill="none" stroke="#F28E2B" stroke-width="1.3"/>
<circle cx="343.8" cy="493.33" r="3" fill="none" stroke="#F28E2B" stroke-width="1.3"/>
<polyline points="208.6,512.66 242.4,505.86 276.2,500.24 310,491.5 343.8,488.26" fill="none" stroke="#F28E2B" stroke-width="1.3" stroke-dasharray="1.3 3.9"/>
<circle cx="208.6" cy="512.66" r="3" fill="none" stroke="#F28E2B" stroke-width="1.3"/>
<circle cx="242.4" cy="505.86" r="3" fill="none" stroke="#F28E2B" stroke-width="1.3"/>
<circle cx="276.2" cy="500.24" r="3" fill="none" stroke="#F28E2B" stroke-width="1.3"/>
<circle cx="310" cy="491.5" r="3" fill="none" stroke="#F28E2B" stroke-width="1.3"/>
<circle cx="343.8" cy="488.26" r="3" fill="none" stroke="#F28E2B" stroke-width="1.3"/>
<rect x="370.9" y="374.5" width="145.7" height="145.1" fill="none" stroke="#000000" stroke-width="0.78"/>
<path d="M376.3 519.6v4.3M410.1 519.6v4.3M443.9 519.6v4.3M477.7 519.6v4.3M511.5 519.6v4.3M370.9 514.5h-4.3M370.9 492.9h-4.3M370.9 471.3h-4.3M370.9 449.7h-4.3M370.9 428.1h-4.3M370.9 406.5h-4.3M370.9 384.9h-4.3" stroke="#000000" stroke-width="0.78" fill="none"/>
<text x="376.3" y="534.6" class="tk">1</text>
<text x="410.1" y="534.6" class="tk">2</text>
<text x="443.9" y="534.6" class="tk">3</text>
<text x="477.7" y="534.6" class="tk">4</text>
<text x="511.5" y="534.6" class="tk">5</text>
<text x="444.55" y="551.1" class="ax">n</text>
<text transform="translate(372.4 392.8) scale(0.9 1)" class="pl">(</text>
<text x="379.32" y="392.8" class="pl">j</text>
<text transform="translate(385.68 392.8) scale(0.9 1)" class="pl">)</text>
<polyline points="376.3,458.66 410.1,451 443.9,463.74 477.7,468.06 511.5,464.82" fill="none" stroke="#4E79A7" stroke-width="1.3"/>
<rect x="373.5" y="455.86" width="5.6" height="5.6" fill="none" stroke="#4E79A7" stroke-width="1.3"/>
<rect x="407.3" y="448.2" width="5.6" height="5.6" fill="none" stroke="#4E79A7" stroke-width="1.3"/>
<rect x="441.1" y="460.94" width="5.6" height="5.6" fill="none" stroke="#4E79A7" stroke-width="1.3"/>
<rect x="474.9" y="465.26" width="5.6" height="5.6" fill="none" stroke="#4E79A7" stroke-width="1.3"/>
<rect x="508.7" y="462.02" width="5.6" height="5.6" fill="none" stroke="#4E79A7" stroke-width="1.3"/>
<polyline points="376.3,473.35 410.1,467.41 443.9,469.57 477.7,475.08 511.5,477.89" fill="none" stroke="#4E79A7" stroke-width="1.3" stroke-dasharray="5.2 5.2"/>
<rect x="373.5" y="470.55" width="5.6" height="5.6" fill="none" stroke="#4E79A7" stroke-width="1.3"/>
<rect x="407.3" y="464.61" width="5.6" height="5.6" fill="none" stroke="#4E79A7" stroke-width="1.3"/>
<rect x="441.1" y="466.77" width="5.6" height="5.6" fill="none" stroke="#4E79A7" stroke-width="1.3"/>
<rect x="474.9" y="472.28" width="5.6" height="5.6" fill="none" stroke="#4E79A7" stroke-width="1.3"/>
<rect x="508.7" y="475.09" width="5.6" height="5.6" fill="none" stroke="#4E79A7" stroke-width="1.3"/>
<polyline points="376.3,504.02 410.1,479.51 443.9,457.58 477.7,452.08 511.5,446.14" fill="none" stroke="#4E79A7" stroke-width="1.3" stroke-dasharray="1.3 3.9"/>
<rect x="373.5" y="501.22" width="5.6" height="5.6" fill="none" stroke="#4E79A7" stroke-width="1.3"/>
<rect x="407.3" y="476.71" width="5.6" height="5.6" fill="none" stroke="#4E79A7" stroke-width="1.3"/>
<rect x="441.1" y="454.78" width="5.6" height="5.6" fill="none" stroke="#4E79A7" stroke-width="1.3"/>
<rect x="474.9" y="449.28" width="5.6" height="5.6" fill="none" stroke="#4E79A7" stroke-width="1.3"/>
<rect x="508.7" y="443.34" width="5.6" height="5.6" fill="none" stroke="#4E79A7" stroke-width="1.3"/>
<polyline points="376.3,455.86 410.1,447.11 443.9,452.51 477.7,453.59 511.5,450.56" fill="none" stroke="#F28E2B" stroke-width="1.3"/>
<circle cx="376.3" cy="455.86" r="3" fill="none" stroke="#F28E2B" stroke-width="1.3"/>
<circle cx="410.1" cy="447.11" r="3" fill="none" stroke="#F28E2B" stroke-width="1.3"/>
<circle cx="443.9" cy="452.51" r="3" fill="none" stroke="#F28E2B" stroke-width="1.3"/>
<circle cx="477.7" cy="453.59" r="3" fill="none" stroke="#F28E2B" stroke-width="1.3"/>
<circle cx="511.5" cy="450.56" r="3" fill="none" stroke="#F28E2B" stroke-width="1.3"/>
<polyline points="376.3,466.33 410.1,454.99 443.9,453.59 477.7,455.86 511.5,458.66" fill="none" stroke="#F28E2B" stroke-width="1.3" stroke-dasharray="5.2 5.2"/>
<circle cx="376.3" cy="466.33" r="3" fill="none" stroke="#F28E2B" stroke-width="1.3"/>
<circle cx="410.1" cy="454.99" r="3" fill="none" stroke="#F28E2B" stroke-width="1.3"/>
<circle cx="443.9" cy="453.59" r="3" fill="none" stroke="#F28E2B" stroke-width="1.3"/>
<circle cx="477.7" cy="455.86" r="3" fill="none" stroke="#F28E2B" stroke-width="1.3"/>
<circle cx="511.5" cy="458.66" r="3" fill="none" stroke="#F28E2B" stroke-width="1.3"/>
<polyline points="376.3,496.57 410.1,460.82 443.9,444.41 477.7,431.99 511.5,430.69" fill="none" stroke="#F28E2B" stroke-width="1.3" stroke-dasharray="1.3 3.9"/>
<circle cx="376.3" cy="496.57" r="3" fill="none" stroke="#F28E2B" stroke-width="1.3"/>
<circle cx="410.1" cy="460.82" r="3" fill="none" stroke="#F28E2B" stroke-width="1.3"/>
<circle cx="443.9" cy="444.41" r="3" fill="none" stroke="#F28E2B" stroke-width="1.3"/>
<circle cx="477.7" cy="431.99" r="3" fill="none" stroke="#F28E2B" stroke-width="1.3"/>
<circle cx="511.5" cy="430.69" r="3" fill="none" stroke="#F28E2B" stroke-width="1.3"/>
<rect x="35.5" y="561" width="146" height="145.5" fill="none" stroke="#000000" stroke-width="0.78"/>
<path d="M40.6 706.5v4.3M74.4 706.5v4.3M108.2 706.5v4.3M142 706.5v4.3M175.8 706.5v4.3M35.5 701.4h-4.3M35.5 679.8h-4.3M35.5 658.2h-4.3M35.5 636.6h-4.3M35.5 615h-4.3M35.5 593.4h-4.3M35.5 571.8h-4.3" stroke="#000000" stroke-width="0.78" fill="none"/>
<text x="40.6" y="721.5" class="tk">1</text>
<text x="74.4" y="721.5" class="tk">2</text>
<text x="108.2" y="721.5" class="tk">3</text>
<text x="142" y="721.5" class="tk">4</text>
<text x="175.8" y="721.5" class="tk">5</text>
<text x="109.3" y="737.9" class="ax">n</text>
<text transform="translate(26.1 701.4) rotate(-90)" class="tk">0.0</text>
<text transform="translate(26.1 658.2) rotate(-90)" class="tk">0.4</text>
<text transform="translate(26.1 615) rotate(-90)" class="tk">0.8</text>
<text transform="translate(26.1 571.8) rotate(-90)" class="tk">1.2</text>
<text transform="translate(6.5 633.75) rotate(-90)" class="yl"><tspan font-style="italic">p</tspan><tspan class="sub" dy="2.3">1</tspan><tspan dy="-2.3">, </tspan><tspan font-style="italic">p</tspan><tspan class="sub" dy="2.3">2</tspan></text>
<text transform="translate(36.7 579.3) scale(0.9 1)" class="pl">(</text>
<text x="43.16" y="579.3" class="pl">k</text>
<text transform="translate(55.88 579.3) scale(0.9 1)" class="pl">)</text>
<polyline points="40.6,700.54 74.4,700.32 108.2,698.05 142,697.62 175.8,695.89" fill="none" stroke="#4E79A7" stroke-width="1.3"/>
<rect x="37.8" y="697.74" width="5.6" height="5.6" fill="none" stroke="#4E79A7" stroke-width="1.3"/>
<rect x="71.6" y="697.52" width="5.6" height="5.6" fill="none" stroke="#4E79A7" stroke-width="1.3"/>
<rect x="105.4" y="695.25" width="5.6" height="5.6" fill="none" stroke="#4E79A7" stroke-width="1.3"/>
<rect x="139.2" y="694.82" width="5.6" height="5.6" fill="none" stroke="#4E79A7" stroke-width="1.3"/>
<rect x="173" y="693.09" width="5.6" height="5.6" fill="none" stroke="#4E79A7" stroke-width="1.3"/>
<polyline points="40.6,699.89 74.4,699.89 108.2,699.24 142,697.62 175.8,696.54" fill="none" stroke="#4E79A7" stroke-width="1.3" stroke-dasharray="5.2 5.2"/>
<rect x="37.8" y="697.09" width="5.6" height="5.6" fill="none" stroke="#4E79A7" stroke-width="1.3"/>
<rect x="71.6" y="697.09" width="5.6" height="5.6" fill="none" stroke="#4E79A7" stroke-width="1.3"/>
<rect x="105.4" y="696.44" width="5.6" height="5.6" fill="none" stroke="#4E79A7" stroke-width="1.3"/>
<rect x="139.2" y="694.82" width="5.6" height="5.6" fill="none" stroke="#4E79A7" stroke-width="1.3"/>
<rect x="173" y="693.74" width="5.6" height="5.6" fill="none" stroke="#4E79A7" stroke-width="1.3"/>
<polyline points="40.6,700.97 74.4,700.97 108.2,699.89 142,698.27 175.8,697.19" fill="none" stroke="#4E79A7" stroke-width="1.3" stroke-dasharray="1.3 3.9"/>
<rect x="37.8" y="698.17" width="5.6" height="5.6" fill="none" stroke="#4E79A7" stroke-width="1.3"/>
<rect x="71.6" y="698.17" width="5.6" height="5.6" fill="none" stroke="#4E79A7" stroke-width="1.3"/>
<rect x="105.4" y="697.09" width="5.6" height="5.6" fill="none" stroke="#4E79A7" stroke-width="1.3"/>
<rect x="139.2" y="695.47" width="5.6" height="5.6" fill="none" stroke="#4E79A7" stroke-width="1.3"/>
<rect x="173" y="694.39" width="5.6" height="5.6" fill="none" stroke="#4E79A7" stroke-width="1.3"/>
<polyline points="40.6,698.7 74.4,695.89 108.2,687.79 142,684.55 175.8,679.69" fill="none" stroke="#F28E2B" stroke-width="1.3"/>
<circle cx="40.6" cy="698.7" r="3" fill="none" stroke="#F28E2B" stroke-width="1.3"/>
<circle cx="74.4" cy="695.89" r="3" fill="none" stroke="#F28E2B" stroke-width="1.3"/>
<circle cx="108.2" cy="687.79" r="3" fill="none" stroke="#F28E2B" stroke-width="1.3"/>
<circle cx="142" cy="684.55" r="3" fill="none" stroke="#F28E2B" stroke-width="1.3"/>
<circle cx="175.8" cy="679.69" r="3" fill="none" stroke="#F28E2B" stroke-width="1.3"/>
<polyline points="40.6,698.27 74.4,696.54 108.2,688.87 142,685.63 175.8,680.77" fill="none" stroke="#F28E2B" stroke-width="1.3" stroke-dasharray="5.2 5.2"/>
<circle cx="40.6" cy="698.27" r="3" fill="none" stroke="#F28E2B" stroke-width="1.3"/>
<circle cx="74.4" cy="696.54" r="3" fill="none" stroke="#F28E2B" stroke-width="1.3"/>
<circle cx="108.2" cy="688.87" r="3" fill="none" stroke="#F28E2B" stroke-width="1.3"/>
<circle cx="142" cy="685.63" r="3" fill="none" stroke="#F28E2B" stroke-width="1.3"/>
<circle cx="175.8" cy="680.77" r="3" fill="none" stroke="#F28E2B" stroke-width="1.3"/>
<polyline points="40.6,699.46 74.4,697.19 108.2,691.14 142,687.79 175.8,682.28" fill="none" stroke="#F28E2B" stroke-width="1.3" stroke-dasharray="1.3 3.9"/>
<circle cx="40.6" cy="699.46" r="3" fill="none" stroke="#F28E2B" stroke-width="1.3"/>
<circle cx="74.4" cy="697.19" r="3" fill="none" stroke="#F28E2B" stroke-width="1.3"/>
<circle cx="108.2" cy="691.14" r="3" fill="none" stroke="#F28E2B" stroke-width="1.3"/>
<circle cx="142" cy="687.79" r="3" fill="none" stroke="#F28E2B" stroke-width="1.3"/>
<circle cx="175.8" cy="682.28" r="3" fill="none" stroke="#F28E2B" stroke-width="1.3"/>
<rect x="203.5" y="561" width="145.9" height="145.5" fill="none" stroke="#000000" stroke-width="0.78"/>
<path d="M208.6 706.5v4.3M242.4 706.5v4.3M276.2 706.5v4.3M310 706.5v4.3M343.8 706.5v4.3M203.5 701.4h-4.3M203.5 679.8h-4.3M203.5 658.2h-4.3M203.5 636.6h-4.3M203.5 615h-4.3M203.5 593.4h-4.3M203.5 571.8h-4.3" stroke="#000000" stroke-width="0.78" fill="none"/>
<text x="208.6" y="721.5" class="tk">1</text>
<text x="242.4" y="721.5" class="tk">2</text>
<text x="276.2" y="721.5" class="tk">3</text>
<text x="310" y="721.5" class="tk">4</text>
<text x="343.8" y="721.5" class="tk">5</text>
<text x="277.25" y="737.9" class="ax">n</text>
<text transform="translate(204.7 579.3) scale(0.9 1)" class="pl">(</text>
<text x="211.16" y="579.3" class="pl">l</text>
<text transform="translate(217.78 579.3) scale(0.9 1)" class="pl">)</text>
<polyline points="208.6,641.46 242.4,647.94 276.2,651.72 310,651.29 343.8,651.29" fill="none" stroke="#4E79A7" stroke-width="1.3"/>
<rect x="205.8" y="638.66" width="5.6" height="5.6" fill="none" stroke="#4E79A7" stroke-width="1.3"/>
<rect x="239.6" y="645.14" width="5.6" height="5.6" fill="none" stroke="#4E79A7" stroke-width="1.3"/>
<rect x="273.4" y="648.92" width="5.6" height="5.6" fill="none" stroke="#4E79A7" stroke-width="1.3"/>
<rect x="307.2" y="648.49" width="5.6" height="5.6" fill="none" stroke="#4E79A7" stroke-width="1.3"/>
<rect x="341" y="648.49" width="5.6" height="5.6" fill="none" stroke="#4E79A7" stroke-width="1.3"/>
<polyline points="208.6,638.98 242.4,652.8 276.2,652.8 310,647.94 343.8,645.13" fill="none" stroke="#4E79A7" stroke-width="1.3" stroke-dasharray="5.2 5.2"/>
<rect x="205.8" y="636.18" width="5.6" height="5.6" fill="none" stroke="#4E79A7" stroke-width="1.3"/>
<rect x="239.6" y="650" width="5.6" height="5.6" fill="none" stroke="#4E79A7" stroke-width="1.3"/>
<rect x="273.4" y="650" width="5.6" height="5.6" fill="none" stroke="#4E79A7" stroke-width="1.3"/>
<rect x="307.2" y="645.14" width="5.6" height="5.6" fill="none" stroke="#4E79A7" stroke-width="1.3"/>
<rect x="341" y="642.33" width="5.6" height="5.6" fill="none" stroke="#4E79A7" stroke-width="1.3"/>
<polyline points="208.6,641.78 242.4,666.62 276.2,677.32 310,683.47 343.8,681.2" fill="none" stroke="#4E79A7" stroke-width="1.3" stroke-dasharray="1.3 3.9"/>
<rect x="205.8" y="638.98" width="5.6" height="5.6" fill="none" stroke="#4E79A7" stroke-width="1.3"/>
<rect x="239.6" y="663.82" width="5.6" height="5.6" fill="none" stroke="#4E79A7" stroke-width="1.3"/>
<rect x="273.4" y="674.52" width="5.6" height="5.6" fill="none" stroke="#4E79A7" stroke-width="1.3"/>
<rect x="307.2" y="680.67" width="5.6" height="5.6" fill="none" stroke="#4E79A7" stroke-width="1.3"/>
<rect x="341" y="678.4" width="5.6" height="5.6" fill="none" stroke="#4E79A7" stroke-width="1.3"/>
<polyline points="208.6,636.38 242.4,632.6 276.2,629.36 310,626.56 343.8,626.56" fill="none" stroke="#F28E2B" stroke-width="1.3"/>
<circle cx="208.6" cy="636.38" r="3" fill="none" stroke="#F28E2B" stroke-width="1.3"/>
<circle cx="242.4" cy="632.6" r="3" fill="none" stroke="#F28E2B" stroke-width="1.3"/>
<circle cx="276.2" cy="629.36" r="3" fill="none" stroke="#F28E2B" stroke-width="1.3"/>
<circle cx="310" cy="626.56" r="3" fill="none" stroke="#F28E2B" stroke-width="1.3"/>
<circle cx="343.8" cy="626.56" r="3" fill="none" stroke="#F28E2B" stroke-width="1.3"/>
<polyline points="208.6,639.62 242.4,635.3 276.2,629.36 310,624.29 343.8,623.64" fill="none" stroke="#F28E2B" stroke-width="1.3" stroke-dasharray="5.2 5.2"/>
<circle cx="208.6" cy="639.62" r="3" fill="none" stroke="#F28E2B" stroke-width="1.3"/>
<circle cx="242.4" cy="635.3" r="3" fill="none" stroke="#F28E2B" stroke-width="1.3"/>
<circle cx="276.2" cy="629.36" r="3" fill="none" stroke="#F28E2B" stroke-width="1.3"/>
<circle cx="310" cy="624.29" r="3" fill="none" stroke="#F28E2B" stroke-width="1.3"/>
<circle cx="343.8" cy="623.64" r="3" fill="none" stroke="#F28E2B" stroke-width="1.3"/>
<polyline points="208.6,641.14 242.4,652.8 276.2,652.8 310,654.53 343.8,651.29" fill="none" stroke="#F28E2B" stroke-width="1.3" stroke-dasharray="1.3 3.9"/>
<circle cx="208.6" cy="641.14" r="3" fill="none" stroke="#F28E2B" stroke-width="1.3"/>
<circle cx="242.4" cy="652.8" r="3" fill="none" stroke="#F28E2B" stroke-width="1.3"/>
<circle cx="276.2" cy="652.8" r="3" fill="none" stroke="#F28E2B" stroke-width="1.3"/>
<circle cx="310" cy="654.53" r="3" fill="none" stroke="#F28E2B" stroke-width="1.3"/>
<circle cx="343.8" cy="651.29" r="3" fill="none" stroke="#F28E2B" stroke-width="1.3"/>
<rect x="370.9" y="561" width="145.7" height="145.5" fill="none" stroke="#000000" stroke-width="0.78"/>
<path d="M376.3 706.5v4.3M410.1 706.5v4.3M443.9 706.5v4.3M477.7 706.5v4.3M511.5 706.5v4.3M370.9 701.4h-4.3M370.9 679.8h-4.3M370.9 658.2h-4.3M370.9 636.6h-4.3M370.9 615h-4.3M370.9 593.4h-4.3M370.9 571.8h-4.3" stroke="#000000" stroke-width="0.78" fill="none"/>
<text x="376.3" y="721.5" class="tk">1</text>
<text x="410.1" y="721.5" class="tk">2</text>
<text x="443.9" y="721.5" class="tk">3</text>
<text x="477.7" y="721.5" class="tk">4</text>
<text x="511.5" y="721.5" class="tk">5</text>
<text x="444.55" y="737.9" class="ax">n</text>
<text transform="translate(372.3 579.3) scale(0.9 1)" class="pl">(</text>
<text x="378.78" y="579.3" class="pl">m</text>
<text transform="translate(398.48 579.3) scale(0.9 1)" class="pl">)</text>
<polyline points="376.3,609.38 410.1,606.79 443.9,603.55 477.7,604.2 511.5,596.53" fill="none" stroke="#4E79A7" stroke-width="1.3"/>
<rect x="373.5" y="606.58" width="5.6" height="5.6" fill="none" stroke="#4E79A7" stroke-width="1.3"/>
<rect x="407.3" y="603.99" width="5.6" height="5.6" fill="none" stroke="#4E79A7" stroke-width="1.3"/>
<rect x="441.1" y="600.75" width="5.6" height="5.6" fill="none" stroke="#4E79A7" stroke-width="1.3"/>
<rect x="474.9" y="601.4" width="5.6" height="5.6" fill="none" stroke="#4E79A7" stroke-width="1.3"/>
<rect x="508.7" y="593.73" width="5.6" height="5.6" fill="none" stroke="#4E79A7" stroke-width="1.3"/>
<polyline points="376.3,586.38 410.1,588.65 443.9,591.46 477.7,606.36 511.5,611.87" fill="none" stroke="#4E79A7" stroke-width="1.3" stroke-dasharray="5.2 5.2"/>
<rect x="373.5" y="583.58" width="5.6" height="5.6" fill="none" stroke="#4E79A7" stroke-width="1.3"/>
<rect x="407.3" y="585.85" width="5.6" height="5.6" fill="none" stroke="#4E79A7" stroke-width="1.3"/>
<rect x="441.1" y="588.66" width="5.6" height="5.6" fill="none" stroke="#4E79A7" stroke-width="1.3"/>
<rect x="474.9" y="603.56" width="5.6" height="5.6" fill="none" stroke="#4E79A7" stroke-width="1.3"/>
<rect x="508.7" y="609.07" width="5.6" height="5.6" fill="none" stroke="#4E79A7" stroke-width="1.3"/>
<polyline points="376.3,701.4 410.1,669.86 443.9,636.82 477.7,624.72 511.5,622.78" fill="none" stroke="#4E79A7" stroke-width="1.3" stroke-dasharray="1.3 3.9"/>
<rect x="373.5" y="698.6" width="5.6" height="5.6" fill="none" stroke="#4E79A7" stroke-width="1.3"/>
<rect x="407.3" y="667.06" width="5.6" height="5.6" fill="none" stroke="#4E79A7" stroke-width="1.3"/>
<rect x="441.1" y="634.02" width="5.6" height="5.6" fill="none" stroke="#4E79A7" stroke-width="1.3"/>
<rect x="474.9" y="621.92" width="5.6" height="5.6" fill="none" stroke="#4E79A7" stroke-width="1.3"/>
<rect x="508.7" y="619.98" width="5.6" height="5.6" fill="none" stroke="#4E79A7" stroke-width="1.3"/>
<polyline points="376.3,601.93 410.1,601.72 443.9,599.56 477.7,598.48 511.5,596.32" fill="none" stroke="#F28E2B" stroke-width="1.3"/>
<circle cx="376.3" cy="601.93" r="3" fill="none" stroke="#F28E2B" stroke-width="1.3"/>
<circle cx="410.1" cy="601.72" r="3" fill="none" stroke="#F28E2B" stroke-width="1.3"/>
<circle cx="443.9" cy="599.56" r="3" fill="none" stroke="#F28E2B" stroke-width="1.3"/>
<circle cx="477.7" cy="598.48" r="3" fill="none" stroke="#F28E2B" stroke-width="1.3"/>
<circle cx="511.5" cy="596.32" r="3" fill="none" stroke="#F28E2B" stroke-width="1.3"/>
<polyline points="376.3,586.38 410.1,593.62 443.9,593.62 477.7,600.2 511.5,603.55" fill="none" stroke="#F28E2B" stroke-width="1.3" stroke-dasharray="5.2 5.2"/>
<circle cx="376.3" cy="586.38" r="3" fill="none" stroke="#F28E2B" stroke-width="1.3"/>
<circle cx="410.1" cy="593.62" r="3" fill="none" stroke="#F28E2B" stroke-width="1.3"/>
<circle cx="443.9" cy="593.62" r="3" fill="none" stroke="#F28E2B" stroke-width="1.3"/>
<circle cx="477.7" cy="600.2" r="3" fill="none" stroke="#F28E2B" stroke-width="1.3"/>
<circle cx="511.5" cy="603.55" r="3" fill="none" stroke="#F28E2B" stroke-width="1.3"/>
<polyline points="376.3,701.4 410.1,666.95 443.9,630.23 477.7,617.7 511.5,608.3" fill="none" stroke="#F28E2B" stroke-width="1.3" stroke-dasharray="1.3 3.9"/>
<circle cx="376.3" cy="701.4" r="3" fill="none" stroke="#F28E2B" stroke-width="1.3"/>
<circle cx="410.1" cy="666.95" r="3" fill="none" stroke="#F28E2B" stroke-width="1.3"/>
<circle cx="443.9" cy="630.23" r="3" fill="none" stroke="#F28E2B" stroke-width="1.3"/>
<circle cx="477.7" cy="617.7" r="3" fill="none" stroke="#F28E2B" stroke-width="1.3"/>
<circle cx="511.5" cy="608.3" r="3" fill="none" stroke="#F28E2B" stroke-width="1.3"/>
<rect x="538.5" y="561" width="146" height="145.5" fill="none" stroke="#000000" stroke-width="0.78"/>
<path d="M544 706.5v4.3M577.8 706.5v4.3M611.6 706.5v4.3M645.4 706.5v4.3M679.2 706.5v4.3M538.5 701.4h-4.3M538.5 679.8h-4.3M538.5 658.2h-4.3M538.5 636.6h-4.3M538.5 615h-4.3M538.5 593.4h-4.3M538.5 571.8h-4.3" stroke="#000000" stroke-width="0.78" fill="none"/>
<text x="544" y="721.5" class="tk">1</text>
<text x="577.8" y="721.5" class="tk">2</text>
<text x="611.6" y="721.5" class="tk">3</text>
<text x="645.4" y="721.5" class="tk">4</text>
<text x="679.2" y="721.5" class="tk">5</text>
<text x="612.3" y="737.9" class="ax">n</text>
<text transform="translate(540 579.3) scale(0.9 1)" class="pl">(</text>
<text x="546.48" y="579.3" class="pl">n</text>
<text transform="translate(560.08 579.3) scale(0.9 1)" class="pl">)</text>
<polyline points="544,681.2 577.8,677.96 611.6,674.72 645.4,665.44 679.2,666.62" fill="none" stroke="#4E79A7" stroke-width="1.3"/>
<rect x="541.2" y="678.4" width="5.6" height="5.6" fill="none" stroke="#4E79A7" stroke-width="1.3"/>
<rect x="575" y="675.16" width="5.6" height="5.6" fill="none" stroke="#4E79A7" stroke-width="1.3"/>
<rect x="608.8" y="671.92" width="5.6" height="5.6" fill="none" stroke="#4E79A7" stroke-width="1.3"/>
<rect x="642.6" y="662.64" width="5.6" height="5.6" fill="none" stroke="#4E79A7" stroke-width="1.3"/>
<rect x="676.4" y="663.82" width="5.6" height="5.6" fill="none" stroke="#4E79A7" stroke-width="1.3"/>
<polyline points="544,695.89 577.8,695.03 611.6,692.87 645.4,693.73 679.2,688.87" fill="none" stroke="#4E79A7" stroke-width="1.3" stroke-dasharray="1.3 3.9"/>
<rect x="541.2" y="693.09" width="5.6" height="5.6" fill="none" stroke="#4E79A7" stroke-width="1.3"/>
<rect x="575" y="692.23" width="5.6" height="5.6" fill="none" stroke="#4E79A7" stroke-width="1.3"/>
<rect x="608.8" y="690.07" width="5.6" height="5.6" fill="none" stroke="#4E79A7" stroke-width="1.3"/>
<rect x="642.6" y="690.93" width="5.6" height="5.6" fill="none" stroke="#4E79A7" stroke-width="1.3"/>
<rect x="676.4" y="686.07" width="5.6" height="5.6" fill="none" stroke="#4E79A7" stroke-width="1.3"/>
<polyline points="544,673 577.8,660.58 611.6,651.07 645.4,642.32 679.2,641.24" fill="none" stroke="#F28E2B" stroke-width="1.3"/>
<circle cx="544" cy="673" r="3" fill="none" stroke="#F28E2B" stroke-width="1.3"/>
<circle cx="577.8" cy="660.58" r="3" fill="none" stroke="#F28E2B" stroke-width="1.3"/>
<circle cx="611.6" cy="651.07" r="3" fill="none" stroke="#F28E2B" stroke-width="1.3"/>
<circle cx="645.4" cy="642.32" r="3" fill="none" stroke="#F28E2B" stroke-width="1.3"/>
<circle cx="679.2" cy="641.24" r="3" fill="none" stroke="#F28E2B" stroke-width="1.3"/>
<polyline points="544,693.3 577.8,683.04 611.6,676.88 645.4,677.32 679.2,666.3" fill="none" stroke="#F28E2B" stroke-width="1.3" stroke-dasharray="1.3 3.9"/>
<circle cx="544" cy="693.3" r="3" fill="none" stroke="#F28E2B" stroke-width="1.3"/>
<circle cx="577.8" cy="683.04" r="3" fill="none" stroke="#F28E2B" stroke-width="1.3"/>
<circle cx="611.6" cy="676.88" r="3" fill="none" stroke="#F28E2B" stroke-width="1.3"/>
<circle cx="645.4" cy="677.32" r="3" fill="none" stroke="#F28E2B" stroke-width="1.3"/>
<circle cx="679.2" cy="666.3" r="3" fill="none" stroke="#F28E2B" stroke-width="1.3"/>
<rect x="547.9" y="34.6" width="5.6" height="5.6" fill="none" stroke="#4E79A7" stroke-width="1.3"/>
<circle cx="550.7" cy="57.3" r="3" fill="none" stroke="#F28E2B" stroke-width="1.3"/>
<text x="569.3" y="41.3" class="lg"><tspan font-style="italic">p</tspan><tspan class="lsub" dy="1.6">1</tspan></text>
<text x="569.3" y="60.8" class="lg"><tspan font-style="italic">p</tspan><tspan class="lsub" dy="1.8">2</tspan></text>
<path d="M540.9 76.9H560.2" stroke="#BAB0AC" stroke-width="1.3"/>
<path d="M540.9 96.6H560.1" stroke="#BAB0AC" stroke-width="1.3" stroke-dasharray="5.2 5.2"/>
<path d="M540.9 116.4H560.1" stroke="#BAB0AC" stroke-width="1.3" stroke-dasharray="1.3 3.9"/>
<text x="569.3" y="80.8" class="lg">Homogeneous</text>
<text x="569.3" y="100.6" class="lg">Heterogeneous stress</text>
<text x="569.3" y="114.3" class="lg">Heterogeneous stress</text>
<text x="569.3" y="126.8" class="lg">and noise</text>
</svg>
</body></html>
